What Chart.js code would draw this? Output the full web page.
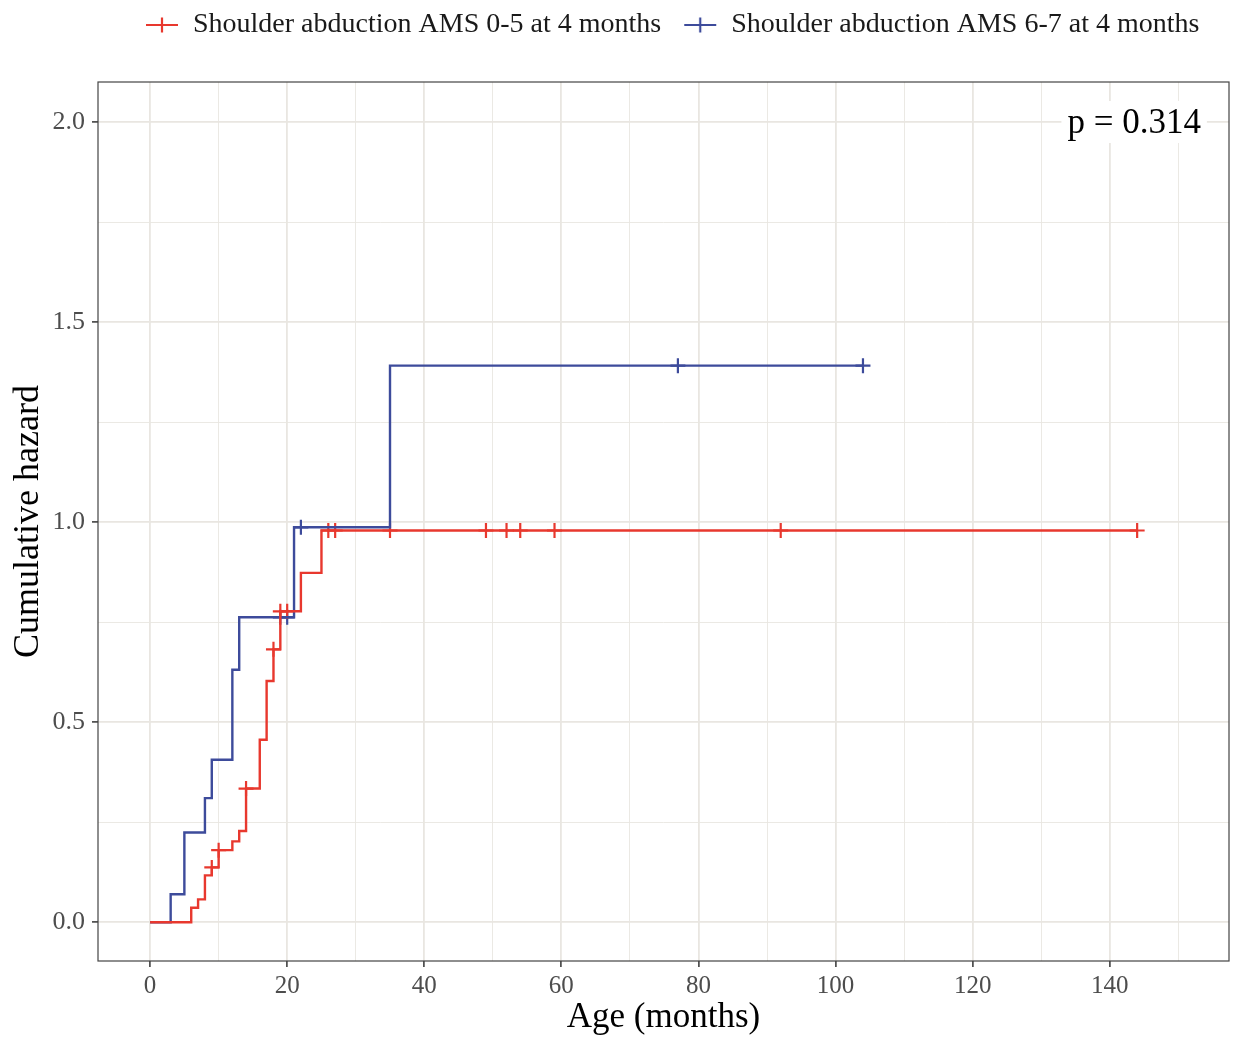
<!DOCTYPE html>
<html>
<head>
<meta charset="utf-8">
<script src="https://cdn.jsdelivr.net/npm/chart.js@4.4.1/dist/chart.umd.min.js"></script>
<style>
  html, body { margin: 0; padding: 0; background: #fff; }
  #wrap { width: 1235px; height: 1041px; }
</style>
</head>
<body>
<div id="wrap"><canvas id="chart" width="1235" height="1041"></canvas></div>
<script>
// Nelson-Aalen step curves (months, cumulative hazard)
const lowTimes    = [0, 6, 7, 8, 9, 10, 12, 13, 14, 16, 17, 18, 19, 22, 25, 144];
const lowHazard   = [0, 0.036, 0.057, 0.117, 0.137, 0.18, 0.202, 0.228, 0.334, 0.456, 0.603, 0.682, 0.777, 0.873, 0.979, 0.979];
const highTimes   = [0, 3, 5, 8, 9, 12, 13, 21, 35, 104];
const highHazard  = [0, 0.07, 0.224, 0.31, 0.406, 0.631, 0.762, 0.987, 1.391, 1.391];

// censored observations (+ marks)
const lowCensor   = [9, 10, 14, 18, 19, 20, 26, 27, 35, 49, 52, 54, 59, 92, 144];
const highCensor  = [19, 20, 22, 77, 104];

const seriesNames = ['Shoulder abduction AMS 0-5 at 4 months', 'Shoulder abduction AMS 6-7 at 4 months'];
const xMajorTicks = [0, 20, 40, 60, 80, 100, 120, 140];
const yMajorTicks = ['0.0', '0.5', '1.0', '1.5', '2.0'];
const pValueText  = 'p = 0.314';

const RED  = '#e8382e';
const BLUE = '#3d4b9b';
const FONT = "'Liberation Serif', 'DejaVu Serif', serif";

function stepPoints(times, vals) {
  return times.map((t, i) => ({ x: t, y: vals[i] }));
}

// hazard level of a step curve at time t
function levelAt(times, vals, t) {
  let v = vals[0];
  for (let i = 0; i < times.length; i++) {
    if (times[i] <= t) v = vals[i];
  }
  return v;
}

function censorPoints(cens, times, vals) {
  return cens.map(t => ({ x: t, y: levelAt(times, vals, t) }));
}

// legend key: short line with a cross on it
function legendKey(color) {
  const c = document.createElement('canvas');
  c.width = 34; c.height = 18;
  const g = c.getContext('2d');
  g.strokeStyle = color;
  g.lineWidth = 2.2;
  g.beginPath();
  g.moveTo(1, 9); g.lineTo(33, 9);
  g.moveTo(17, 1.5); g.lineTo(17, 16.5);
  g.stroke();
  return c;
}

const isHalf = v => Math.abs(v * 2 - Math.round(v * 2)) < 1e-6;

// p-value label, panel border, legend placement
const panelExtras = {
  id: 'panelExtras',
  afterLayout(chart) {
    chart.legend.left = 123;
    chart.legend.top -= 33;
  },
  afterDatasetsDraw(chart) {
    const { ctx, chartArea } = chart;
    ctx.save();
    ctx.font = '35px ' + FONT;
    const w = ctx.measureText(pValueText).width;
    const xr = chart.scales.x.getPixelForValue(153.3);
    const yc = chart.scales.y.getPixelForValue(2.0);
    ctx.fillStyle = '#fff';
    ctx.fillRect(xr - w - 6, yc - 21, w + 12, 42);
    ctx.fillStyle = '#000';
    ctx.textAlign = 'right';
    ctx.textBaseline = 'middle';
    ctx.fillText(pValueText, xr, yc + 2);
    ctx.strokeStyle = '#444';
    ctx.lineWidth = 1.2;
    ctx.strokeRect(chartArea.left, chartArea.top, chartArea.right - chartArea.left, chartArea.bottom - chartArea.top);
    ctx.restore();
  }
};

const gridColor = '#e9e6e1';

new Chart(document.getElementById('chart'), {
  type: 'line',
  data: {
    datasets: [
      {
        label: seriesNames[0],
        data: stepPoints(lowTimes, lowHazard),
        borderColor: RED,
        borderWidth: 2.4,
        stepped: true,
        pointRadius: 0,
        pointStyle: legendKey(RED),
      },
      {
        label: seriesNames[1],
        data: stepPoints(highTimes, highHazard),
        borderColor: BLUE,
        borderWidth: 2.4,
        stepped: true,
        pointRadius: 0,
        pointStyle: legendKey(BLUE),
      },
      {
        label: 'censor-low',
        data: censorPoints(lowCensor, lowTimes, lowHazard),
        showLine: false,
        pointStyle: 'cross',
        pointRadius: 7.5,
        borderColor: RED,
        borderWidth: 2.2,
      },
      {
        label: 'censor-high',
        data: censorPoints(highCensor, highTimes, highHazard),
        showLine: false,
        pointStyle: 'cross',
        pointRadius: 7.5,
        borderColor: BLUE,
        borderWidth: 2.2,
      },
    ],
  },
  options: {
    responsive: false,
    animation: false,
    layout: { autoPadding: false, padding: { top: 22, right: 6, bottom: 0, left: 0 } },
    plugins: {
      tooltip: { enabled: false },
      legend: {
        position: 'top',
        align: 'start',
        labels: {
          usePointStyle: true,
          pointStyleWidth: 34,
          padding: 22,
          color: '#1a1a1a',
          font: { family: FONT, size: 28 },
          filter: item => item.datasetIndex < 2,
          sort: (a, b) => a.datasetIndex - b.datasetIndex,
        },
      },
    },
    scales: {
      x: {
        type: 'linear',
        min: -7.6,
        max: 157.4,
        afterFit(scale) { scale.height = 80; },
        ticks: {
          stepSize: 10,
          includeBounds: false,
          padding: 4,
          color: '#4d4d4d',
          font: { family: FONT, size: 25 },
          autoSkip: false,
          maxRotation: 0,
          callback: v => xMajorTicks.includes(v) ? String(v) : '',
        },
        grid: {
          color: gridColor,
          lineWidth: c => (c.tick && xMajorTicks.includes(c.tick.value)) ? 1.8 : 0.9,
          tickLength: 6,
          tickColor: c => (c.tick && xMajorTicks.includes(c.tick.value)) ? '#333' : 'rgba(0,0,0,0)',
          tickWidth: 1.5,
        },
        border: { display: false },
        title: {
          display: true,
          text: 'Age (months)',
          color: '#000',
          font: { family: FONT, size: 35 },
          padding: { top: 0, bottom: 2 },
        },
      },
      y: {
        type: 'linear',
        min: -0.097,
        max: 2.1,
        afterFit(scale) { scale.width = 98; },
        ticks: {
          stepSize: 0.25,
          includeBounds: false,
          padding: 7,
          color: '#4d4d4d',
          font: { family: FONT, size: 26 },
          autoSkip: false,
          callback: v => isHalf(v) ? yMajorTicks[Math.round(v * 2)] : '',
        },
        grid: {
          color: gridColor,
          lineWidth: c => (c.tick && isHalf(c.tick.value)) ? 1.8 : 0.9,
          tickLength: 6,
          tickColor: c => (c.tick && isHalf(c.tick.value)) ? '#333' : 'rgba(0,0,0,0)',
          tickWidth: 1.5,
        },
        border: { display: false },
        title: {
          display: true,
          text: 'Cumulative hazard',
          color: '#000',
          font: { family: FONT, size: 36 },
          padding: { top: 7, bottom: 4 },
        },
      },
    },
  },
  plugins: [panelExtras],
});
</script>
</body>
</html>
